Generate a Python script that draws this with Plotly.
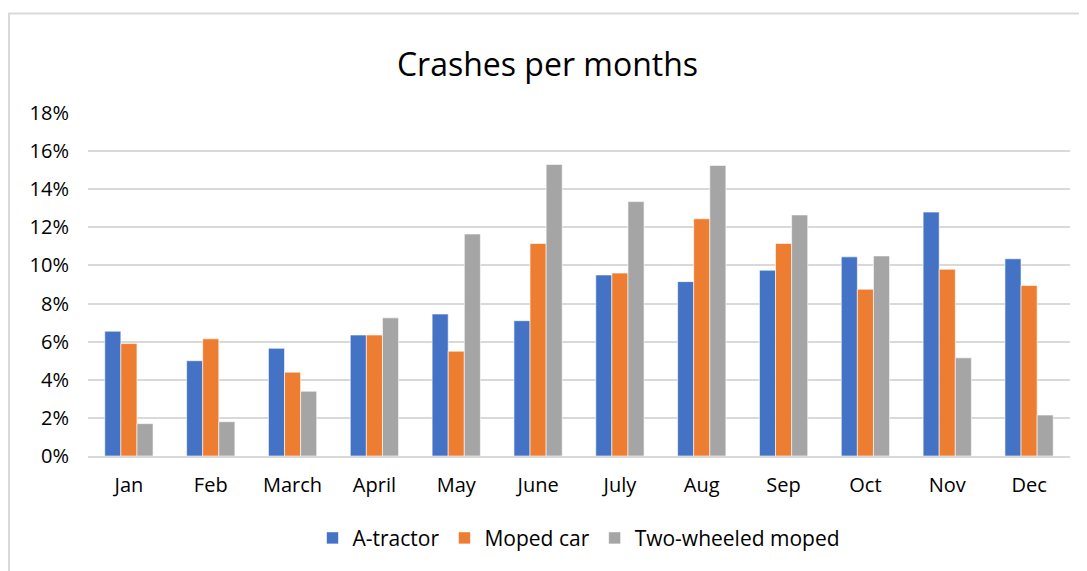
import plotly.graph_objects as go

months = ["Jan", "Feb", "March", "April", "May", "June", "July", "Aug", "Sep", "Oct", "Nov", "Dec"]
a_tractor = [6.55, 5.0, 5.65, 6.35, 7.45, 7.1, 9.5, 9.15, 9.75, 10.45, 12.8, 10.35]
moped_car = [5.9, 6.15, 4.4, 6.35, 5.5, 11.15, 9.6, 12.45, 11.15, 8.75, 9.8, 8.95]
two_wheeled = [1.7, 1.8, 3.4, 7.25, 11.65, 15.3, 13.35, 15.25, 12.65, 10.5, 5.15, 2.15]
y_ticks = [0, 2, 4, 6, 8, 10, 12, 14, 16, 18]

font = "Open Sans"

fig = go.Figure()
for name, vals, color in [
    ("A-tractor", a_tractor, "#4472C4"),
    ("Moped car", moped_car, "#ED7D31"),
    ("Two-wheeled moped", two_wheeled, "#A5A5A5"),
]:
    fig.add_trace(go.Bar(
        x=months, y=vals, name=name,
        marker=dict(color=color, line=dict(color="rgba(255,255,255,0.6)", width=1)),
        hovertemplate="%{x}: %{y}%<extra>" + name + "</extra>",
    ))

# page body has an 8px margin, so the figure is sized to fit inside the window
fig.update_layout(
    width=1079, height=563,
    barmode="group", bargap=0.41, bargroupgap=0,
    paper_bgcolor="white", plot_bgcolor="white",
    margin=dict(l=80, r=17, t=105, b=113),
    font=dict(family=font, size=20, color="#262626"),
    title=dict(text="Crashes per months", x=0.5, xanchor="center", y=0.9, yanchor="middle",
               font=dict(family=font, size=32, color="#000000")),
    legend=dict(orientation="h", x=0.5, xanchor="center", y=-0.18, yanchor="top",
                font=dict(size=21, color="#000000"), traceorder="normal"),
    showlegend=True,
)
fig.update_yaxes(range=[0, 18], tickvals=y_ticks, ticktext=[f"{v}%" for v in y_ticks],
                 showgrid=True, gridcolor="#D9D9D9", gridwidth=1.5, zeroline=False,
                 ticks="outside", ticklen=14, tickcolor="rgba(0,0,0,0)", showline=False,
                 tickfont=dict(size=20, color="#000000"))
fig.update_xaxes(showgrid=False, showline=True, linecolor="#D9D9D9", linewidth=1.5,
                 ticks="outside", ticklen=10, tickcolor="rgba(0,0,0,0)",
                 tickfont=dict(size=20, color="#000000"))

# outer chart border
fig.add_shape(type="rect", xref="paper", yref="paper",
              x0=(1 - 80) / 982, x1=1.1, y0=-0.5, y1=(450 - 5) / 345,
              line=dict(color="#D9D9D9", width=2), fillcolor="rgba(0,0,0,0)", layer="below")

fig.write_html("out.html")
